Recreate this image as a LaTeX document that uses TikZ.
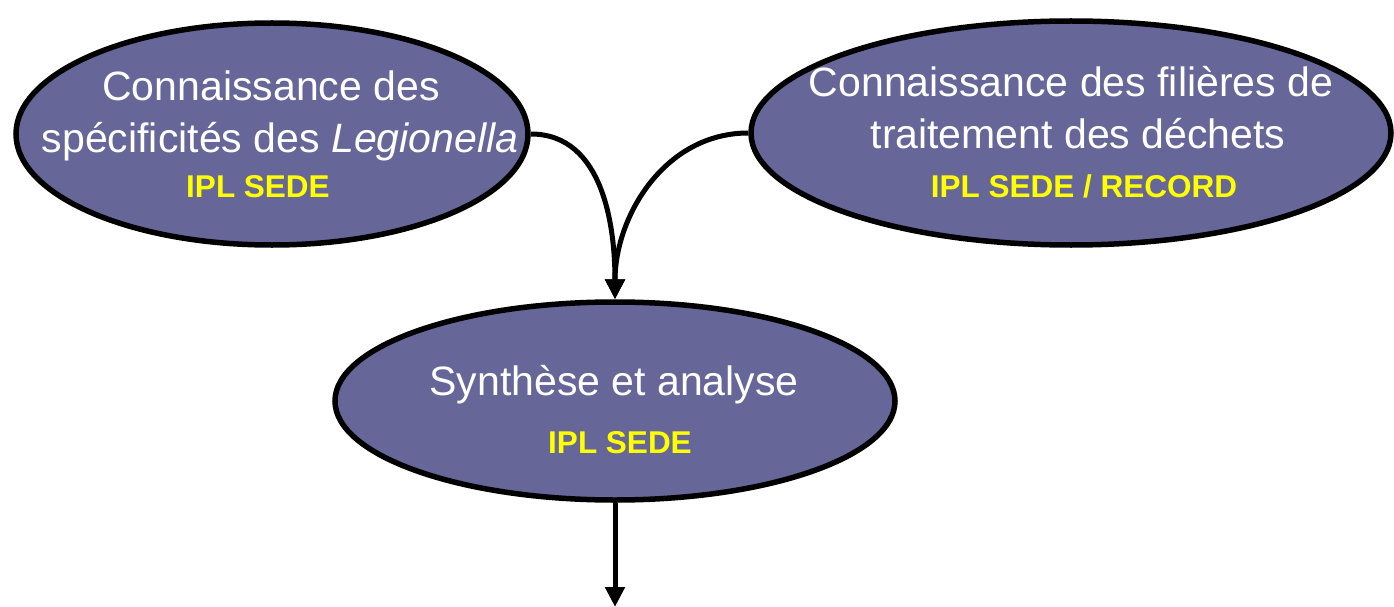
\documentclass[tikz,border=0pt]{standalone}
\usepackage{fontspec}
\setmainfont{Liberation Sans}
\usetikzlibrary{shapes.geometric,arrows.meta}
\definecolor{ellfill}{HTML}{666699}
\definecolor{ipl}{HTML}{FFFF00}
\begin{document}
\begin{tikzpicture}[x=1pt,y=1pt,
  bubble/.style={ellipse,draw=black,line width=5.5pt,fill=ellfill,inner sep=0pt},
  maintext/.style={text=white,font=\fontsize{41}{48}\selectfont,anchor=base,inner sep=0pt},
  tagtext/.style={text=ipl,font=\fontsize{31.5}{36}\selectfont\bfseries,anchor=base,inner sep=0pt},
  conn/.style={line width=5pt,-{Triangle[length=20pt,width=19pt]}}]
\useasboundingbox (0,0) rectangle (1394,-607);
\node[bubble,minimum width=512pt,minimum height=222pt] (e1) at (272,-134) {};
\node[bubble,minimum width=640pt,minimum height=224pt] (e2) at (1071,-133) {};
\node[bubble,minimum width=560pt,minimum height=198pt] (e3) at (615,-401) {};
\node[maintext] (a1) at (271,-101) {Connaissance des};
\node[maintext] (a2) at (280,-153) {spécificités des \textit{Legionella}};
\node[tagtext] (a3) at (258,-197) {IPL SEDE};
\node[maintext] (b1) at (1071,-97) {Connaissance des filières de};
\node[maintext] (b2) at (1078,-148) {traitement des déchets};
\node[tagtext] (b3) at (1084,-197) {IPL SEDE / RECORD};
\node[maintext] (c1) at (614,-395) {Synthèse et analyse};
\node[tagtext] (c2) at (620,-453) {IPL SEDE};
\coordinate (out) at (615,-607);
\draw[conn] (e1.east) to[out=0,in=90] (e3.north);
\draw[conn] (e2.west) to[out=180,in=90] (e3.north);
\draw[conn] (e3.south) -- (out);
\end{tikzpicture}
\end{document}
